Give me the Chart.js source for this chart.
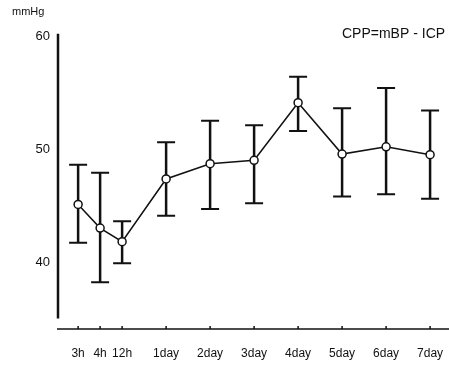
<!DOCTYPE html>
<html>
<head>
<title>CPP</title>
<style>
  body { margin: 0; background: #fff; }
  canvas { display: block; }
</style>
<script src="https://cdn.jsdelivr.net/npm/chart.js"></script>
</head>
<body>
<canvas id="cppChart" width="449" height="365"></canvas>
<script>
// time points after onset (hours first, then days)
const categories = ["3h", "4h", "12h", "1day", "2day", "3day", "4day", "5day", "6day", "7day"];
const timePos = [0, 0.5, 1, 2, 3, 4, 5, 6, 7, 8];
// CPP mean and error bar ends, mmHg
const cppMean  = [45.1, 43.0, 41.8, 47.35, 48.7, 49.0, 54.1, 49.55, 50.2, 49.5];
const cppUpper = [48.6, 47.9, 43.6, 50.6, 52.5, 52.1, 56.4, 53.6, 55.4, 53.4];
const cppLower = [41.7, 38.2, 39.9, 44.1, 44.7, 45.2, 51.6, 45.8, 46.0, 45.6];
const yTicks = [40, 50, 60];

const font = "'Liberation Sans', Arial, sans-serif";

const points = timePos.map((x, i) => ({ x: x, y: cppMean[i] }));

// axes, little tick marks, error bars and notes
const extras = {
  id: "extras",
  beforeDatasetsDraw(chart) {
    const c = chart.ctx, xs = chart.scales.x, ys = chart.scales.y, a = chart.chartArea;
    c.save();
    c.strokeStyle = "#111";
    // y axis, stops short of the x axis
    c.lineWidth = 2.5;
    c.beginPath();
    c.moveTo(a.left + 1, ys.getPixelForValue(60.2));
    c.lineTo(a.left + 1, ys.getPixelForValue(35));
    c.stroke();
    // x axis
    c.lineWidth = 1.5;
    c.beginPath();
    c.moveTo(a.left, a.bottom);
    c.lineTo(a.right, a.bottom);
    c.stroke();
    // tick marks pointing up
    timePos.forEach(p => {
      const px = xs.getPixelForValue(p);
      c.beginPath();
      c.moveTo(px, a.bottom);
      c.lineTo(px, a.bottom - 3);
      c.stroke();
    });
    // error bars
    timePos.forEach((p, i) => {
      const px = xs.getPixelForValue(p);
      const top = ys.getPixelForValue(cppUpper[i]);
      const bot = ys.getPixelForValue(cppLower[i]);
      c.lineWidth = 2.5;
      c.beginPath();
      c.moveTo(px, top);
      c.lineTo(px, bot);
      c.stroke();
      c.lineWidth = 2;
      c.beginPath();
      c.moveTo(px - 9, top); c.lineTo(px + 9, top);
      c.moveTo(px - 9, bot); c.lineTo(px + 9, bot);
      c.stroke();
    });
    // unit and formula
    c.fillStyle = "#111";
    c.textBaseline = "middle";
    c.font = "11px " + font;
    c.textAlign = "left";
    c.fillText("mmHg", 12, 12);
    c.font = "14px " + font;
    c.fillText("CPP=mBP - ICP", 342, 34);
    c.restore();
  }
};

new Chart(document.getElementById("cppChart"), {
  type: "line",
  data: {
    datasets: [{
      data: points,
      borderColor: "#111",
      borderWidth: 1.5,
      pointRadius: 4,
      pointBackgroundColor: "#fff",
      pointBorderColor: "#111",
      pointBorderWidth: 1.5,
      tension: 0,
      clip: false
    }]
  },
  options: {
    responsive: false,
    animation: false,
    layout: { autoPadding: false, padding: { top: 33, left: 0, right: 0, bottom: 0 } },
    plugins: { legend: { display: false }, tooltip: { enabled: false } },
    scales: {
      x: {
        type: "linear",
        min: -0.48,
        max: 8.43,
        afterFit(scale) {
          scale.height = 36;
          scale.paddingLeft = 0;
          scale.paddingRight = 0;
        },
        afterBuildTicks(scale) { scale.ticks = timePos.map(v => ({ value: v })); },
        grid: { display: false, drawTicks: false },
        border: { display: false },
        ticks: {
          padding: 17,
          color: "#111",
          font: { family: font, size: 12 },
          maxRotation: 0,
          autoSkip: false,
          callback: (v) => categories[timePos.indexOf(v)]
        }
      },
      y: {
        min: 34.07,
        max: 60.27,
        afterFit(scale) {
          scale.width = 57;
          scale.paddingTop = 0;
          scale.paddingBottom = 0;
        },
        afterBuildTicks(scale) { scale.ticks = yTicks.map(v => ({ value: v })); },
        grid: { display: false, drawTicks: false },
        border: { display: false },
        ticks: {
          padding: 7,
          color: "#111",
          font: { family: font, size: 13 }
        }
      }
    }
  },
  plugins: [extras]
});
</script>
</body>
</html>
